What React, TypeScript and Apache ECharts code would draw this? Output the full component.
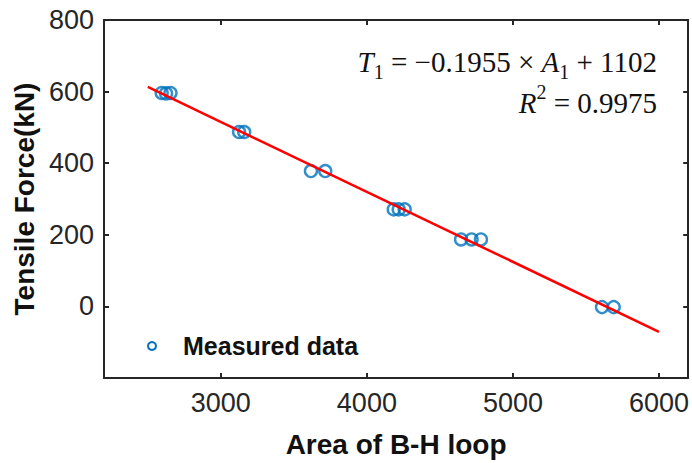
import React, { useEffect, useRef } from "react";
import * as echarts from "echarts";

// Measured data (Area of B-H loop vs Tensile Force)
const areaValues = [2595, 2625, 2655, 3125, 3160, 3617, 3715, 4184, 4218, 4259, 4645, 4717, 4781, 5610, 5690];
const forceValues = [596, 595, 596, 487, 487, 378, 378, 271, 271, 271, 187, 187, 187, -2, -2];

// Fitted line endpoints
const fitX = [2500, 6000];
const fitY = [613, -71];

const xTicks = [3000, 4000, 5000, 6000];
const yTicks = [0, 200, 400, 600, 800];

const AXIS_COLOR = "#262626";
const SANS = "'Liberation Sans', Arial, sans-serif";
const SERIF = "'Liberation Serif', 'Times New Roman', serif";

export default function App() {
  const ref = useRef<HTMLDivElement>(null);

  useEffect(() => {
    if (!ref.current) return;
    const chart = echarts.init(ref.current, undefined, { renderer: "svg" });

    const baseX = {
      type: "value",
      min: 2200,
      max: 6200,
      axisLine: { show: true, onZero: false, lineStyle: { color: AXIS_COLOR, width: 2 } },
      axisTick: { show: true, inside: true, length: 5, customValues: xTicks, lineStyle: { color: AXIS_COLOR, width: 2 } },
      splitLine: { show: false },
    };
    const baseY = {
      type: "value",
      min: -200,
      max: 800,
      axisLine: { show: true, onZero: false, lineStyle: { color: AXIS_COLOR, width: 2 } },
      axisTick: { show: true, inside: true, length: 5, customValues: yTicks, lineStyle: { color: AXIS_COLOR, width: 2 } },
      splitLine: { show: false },
    };

    chart.setOption({
      animation: false,
      grid: { left: 104, right: 2, top: 20, bottom: 84, containLabel: false },
      xAxis: [
        {
          ...baseX,
          position: "bottom",
          axisLabel: {
            show: true,
            customValues: xTicks,
            formatter: (v: number) => String(v),
            color: AXIS_COLOR,
            fontFamily: SANS,
            fontSize: 27,
            margin: 11,
          },
          name: "Area of B-H loop",
          nameLocation: "middle",
          nameGap: 52,
          nameTextStyle: { color: "#111", fontFamily: SANS, fontSize: 28, fontWeight: "bold" },
        },
        { ...baseX, position: "top", axisLabel: { show: false } },
      ],
      yAxis: [
        {
          ...baseY,
          position: "left",
          axisLabel: {
            show: true,
            customValues: yTicks,
            formatter: (v: number) => String(v),
            color: AXIS_COLOR,
            fontFamily: SANS,
            fontSize: 27,
            margin: 10,
          },
          name: "Tensile Force(kN)",
          nameLocation: "middle",
          nameGap: 66,
          nameTextStyle: { color: "#111", fontFamily: SANS, fontSize: 28, fontWeight: "bold" },
        },
        { ...baseY, position: "right", axisLabel: { show: false } },
      ],
      series: [
        {
          name: "Measured data",
          type: "scatter",
          data: areaValues.map((a, i) => [a, forceValues[i]]),
          symbol: "circle",
          symbolSize: 12,
          itemStyle: { color: "rgba(0,0,0,0)", borderColor: "#0072BD", borderWidth: 2.4 },
          z: 2,
        },
        {
          name: "Fit",
          type: "line",
          data: fitX.map((x, i) => [x, fitY[i]]),
          symbol: "none",
          lineStyle: { color: "#FF0000", width: 2.5 },
          z: 3,
        },
      ],
      graphic: [
        {
          type: "circle",
          shape: { cx: 152, cy: 346, r: 4 },
          style: { fill: "none", stroke: "#0072BD", lineWidth: 2 },
        },
        {
          type: "text",
          x: 183,
          y: 346,
          style: {
            text: "Measured data",
            fill: "#111",
            font: `bold 25px ${SANS}`,
            verticalAlign: "middle",
            align: "left",
          },
        },
        {
          type: "text",
          x: 657,
          y: 41,
          style: {
            text: "{i|T}{sub|1}{n| = −0.1955 × }{i|A}{sub|1}{n| + 1102}\n{i|R}{sup|2}{n| = 0.9975}",
            align: "right",
            verticalAlign: "top",
            fill: "#111",
            rich: {
              i: { fontFamily: SERIF, fontSize: 29, fontStyle: "italic", lineHeight: 41, verticalAlign: "middle", fill: "#111" },
              n: { fontFamily: SERIF, fontSize: 29, lineHeight: 41, verticalAlign: "middle", fill: "#111" },
              sub: { fontFamily: SERIF, fontSize: 20, lineHeight: 22, verticalAlign: "bottom", fill: "#111" },
              sup: { fontFamily: SERIF, fontSize: 20, lineHeight: 24, verticalAlign: "top", fill: "#111" },
            },
          },
        },
      ],
    });

    return () => chart.dispose();
  }, []);

  return <div ref={ref} style={{ width: 692, height: 463, position: "absolute", left: 0, top: 0, background: "#fff" }} />;
}
